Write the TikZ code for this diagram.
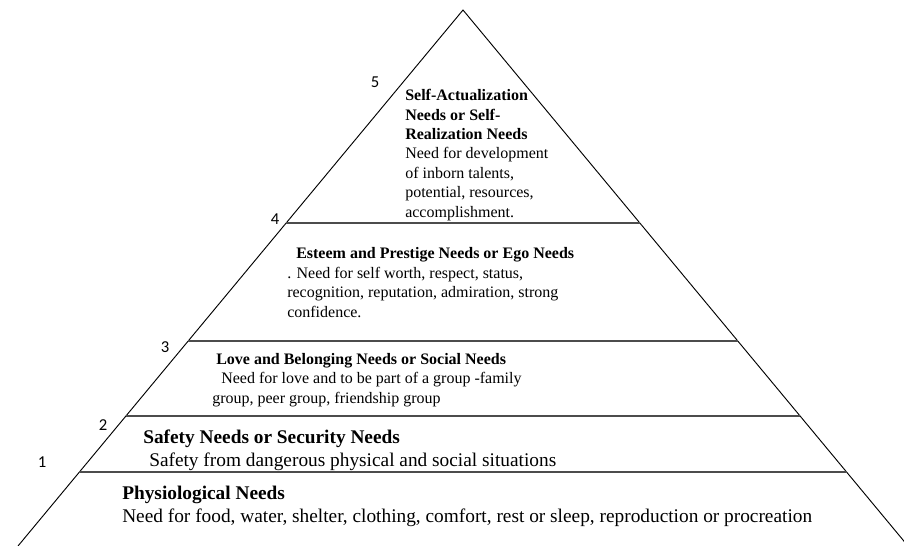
\documentclass[tikz,border=0pt]{standalone}
\usepackage{fontspec}
\setmainfont{Liberation Serif}
\newfontfamily\digitfont{Carlito}
\usetikzlibrary{positioning,calc}

\begin{document}
\begin{tikzpicture}[x=0.75pt,y=-0.75pt,
side/.style={draw=black,line width=0.7pt},
level/.style={draw=black!70,line width=1.2pt},
levelnum/.style={font=\digitfont\fontsize{12.5}{14}\selectfont,inner sep=0pt},
needs/.style={anchor=north west,align=left,inner sep=0pt,font=\fontsize{12}{14.6}\selectfont},
bigneeds/.style={needs,font=\fontsize{14.5}{17.25}\selectfont}]

\useasboundingbox (0,0) rectangle (904,546);
\clip (0,0) rectangle (904,546);

\coordinate (top) at (463,10);
\coordinate (bl) at (18,546);
\coordinate (br) at (908,546);
\draw[side] (bl) -- (top) -- (br);

% dividing lines between the levels
\foreach \t/\n in {0.3974/4,0.6175/3,0.7575/2,0.862/1}{
  \coordinate (l\n) at ($(top)!\t!(bl)$);
  \coordinate (r\n) at ($(top)!\t!(br)$);
  \draw[level] (l\n) -- (r\n);
}

\node[levelnum] (n5) at (375,82) {5};
\node[levelnum] (n4) at (275,219) {4};
\node[levelnum] (n3) at (165,347) {3};
\node[levelnum] (n2) at (103,425) {2};
\node[levelnum] (n1) at (42,462) {1};

\node[needs] (selfact) at (405,89) {\textbf{Self-Actualization}\\ \textbf{Needs or Self-}\\ \textbf{Realization Needs}\\ Need for development\\ of inborn talents,\\ potential, resources,\\ accomplishment.};

\node[needs,font=\fontsize{12}{14.8}\selectfont] (esteem) at (287,247) {\hspace*{6.75pt}\textbf{Esteem and Prestige Needs or Ego Needs}\\ . Need for self worth, respect, status,\\ recognition, reputation, admiration, strong\\ confidence.};

\node[needs] (love) at (212,353) {\hspace*{3pt}\textbf{Love and Belonging Needs or Social Needs}\\ \hspace*{6.75pt}Need for love and to be part of a group -family\\ group, peer group, friendship group};

\node[bigneeds] (safety) at (143,430) {\textbf{Safety Needs or Security Needs}\\ \hspace*{4.5pt}Safety from dangerous physical and social situations};

\node[bigneeds] (physio) at (122,486) {\textbf{Physiological Needs}\\ Need for food, water, shelter, clothing, comfort, rest or sleep, reproduction or procreation};

\end{tikzpicture}
\end{document}
